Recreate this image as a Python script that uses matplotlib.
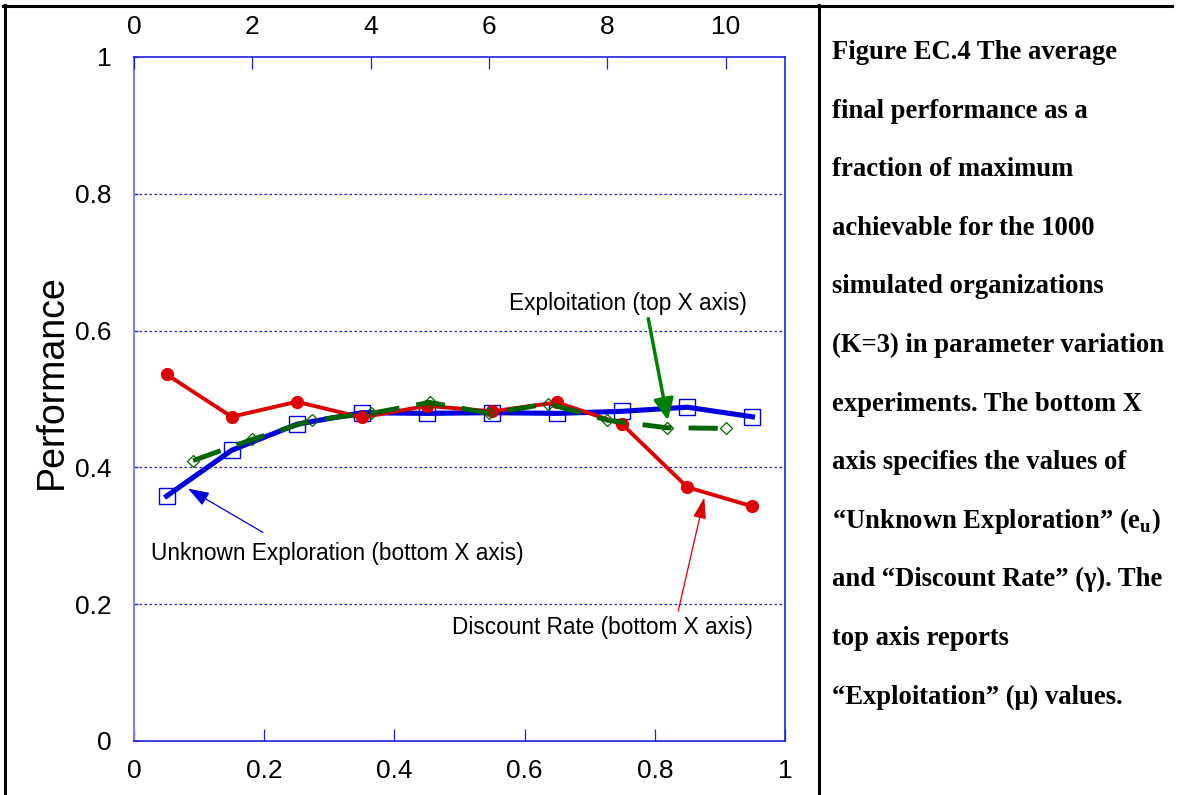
import matplotlib
matplotlib.use("Agg")
import matplotlib.pyplot as plt
from matplotlib.lines import Line2D

plt.rcParams['font.family'] = ['Liberation Sans', 'DejaVu Sans']
plt.rcParams['mathtext.fontset'] = 'custom'
plt.rcParams['mathtext.rm'] = 'Liberation Serif:bold'
plt.rcParams['mathtext.bf'] = 'Liberation Serif:bold'

# ---- data ----
bottom_x = [0.05, 0.15, 0.25, 0.35, 0.45, 0.55, 0.65, 0.75, 0.85, 0.95]
unknown_exploration = [0.358, 0.425, 0.463, 0.480, 0.479, 0.480, 0.479, 0.482, 0.488, 0.474]
discount_rate = [0.536, 0.474, 0.496, 0.473, 0.490, 0.482, 0.495, 0.463, 0.371, 0.343]
top_x = [1, 2, 3, 4, 5, 6, 7, 8, 9, 10]
exploitation = [0.410, 0.441, 0.469, 0.479, 0.495, 0.479, 0.493, 0.469, 0.458, 0.457]

bottom_ticks = [0, 0.2, 0.4, 0.6, 0.8, 1]
bottom_labels = ['0', '0.2', '0.4', '0.6', '0.8', '1']
top_ticks = [0, 2, 4, 6, 8, 10]
y_ticks = [0, 0.2, 0.4, 0.6, 0.8, 1]
y_labels = ['0', '0.2', '0.4', '0.6', '0.8', '1']

caption_lines = [
    "Figure EC.4 The average",
    "final performance as a",
    "fraction of maximum",
    "achievable for the 1000",
    "simulated organizations",
    "(K=3) in parameter variation",
    "experiments. The bottom X",
    "axis specifies the values of",
    "\u201cUnknown Exploration\u201d ($\\mathbf{e}_\\mathbf{u}$)",
    "and \u201cDiscount Rate\u201d (\u03b3). The",
    "top axis reports",
    "\u201cExploitation\u201d (\u03bc) values.",
]

TICKFONT = ['Liberation Sans', 'DejaVu Sans']

W, H = 1177, 795
fig = plt.figure(figsize=(W / 100, H / 100), dpi=100)
fig.patch.set_facecolor('white')

L, R, T, B = 134, 785, 57, 741
ax = fig.add_axes([L / W, 1 - B / H, (R - L) / W, (B - T) / H])

blue = '#0000dd'
red = '#dd0000'
green = '#006400'

ax.plot(bottom_x, unknown_exploration, color=blue, lw=3.7, marker='s', ms=11,
        mfc='none', mec=blue, mew=1.0, zorder=3)
ax.plot(bottom_x, discount_rate, color=red, lw=2.8, marker='o', ms=8.5,
        mfc=red, mec=red, zorder=4)

ax.set_xlim(0, 1)
ax.set_ylim(0, 1)
ax.set_xticks(bottom_ticks)
ax.set_xticklabels(bottom_labels, family=TICKFONT)
ax.set_yticks(y_ticks)
ax.set_yticklabels(y_labels, family=TICKFONT)
for yv in [0.2, 0.4, 0.6, 0.8]:
    ax.axhline(yv, color='#2222dd', lw=0.9, ls=(0, (2, 2)), zorder=1)

ax.tick_params(axis='x', direction='in', length=8.5, width=0.9, color='#2020cc',
               labelsize=19, pad=13, top=False)
ax.tick_params(axis='y', direction='in', length=3, width=0.9, color='#2020cc',
               labelsize=19, pad=16)
ax.set_ylabel('Performance', fontsize=27)
ax.yaxis.set_label_coords(-0.098, 0.525)

for s in ['top', 'bottom', 'right']:
    ax.spines[s].set_color('#2020dd')
    ax.spines[s].set_linewidth(1.2)
ax.spines['left'].set_color('#8080ee')
ax.spines['left'].set_linewidth(1.5)

ax2 = ax.twiny()
ax2.plot(top_x, exploitation, color=green, lw=3.5, ls=(0, (6, 3.5)), marker='D',
         ms=6.5, mfc='none', mec=green, mew=0.9, zorder=5)
ax2.set_xlim(0, 11)
ax2.set_xticks(top_ticks)
ax2.set_xticklabels([str(t) for t in top_ticks], family=TICKFONT)
ax2.tick_params(axis='x', direction='in', length=8.5, width=0.9, color='#2020cc',
                labelsize=19, pad=13)
for s in ax2.spines.values():
    s.set_visible(False)

# ---- annotations ----
ax.text(0.759, 0.639, 'Exploitation (top X axis)', ha='center', va='center',
        fontsize=16.3, zorder=6)
ax.annotate('', xy=(0.82, 0.4686), xytext=(0.79, 0.6175),
            arrowprops=dict(arrowstyle='-|>,head_length=1.3,head_width=0.6',
                            color='#008000', lw=2.5, shrinkA=0, shrinkB=0), zorder=6)

ax.text(0.312, 0.274, 'Unknown Exploration (bottom X axis)', ha='center', va='center',
        fontsize=16.3)
ax.annotate('', xy=(0.083, 0.369), xytext=(0.198, 0.305),
            arrowprops=dict(arrowstyle='-|>,head_length=1.3,head_width=0.45',
                            color=blue, lw=0.9, shrinkA=0, shrinkB=0), zorder=6)

ax.text(0.719, 0.166, 'Discount Rate (bottom X axis)', ha='center', va='center',
        fontsize=16.3)
ax.annotate('', xy=(0.876, 0.356), xytext=(0.836, 0.19),
            arrowprops=dict(arrowstyle='-|>,head_length=1.3,head_width=0.4',
                            color=red, lw=0.9, shrinkA=0, shrinkB=0), zorder=6)

# ---- frame lines ----
def fl(x0, y0, x1, y1):
    fig.add_artist(Line2D([x0 / W, x1 / W], [1 - y0 / H, 1 - y1 / H],
                          color='black', lw=2.2, transform=fig.transFigure))

fl(3, 5.5, 1172, 5.5)
fl(4.5, 5, 4.5, 795)
fl(818.5, 5, 818.5, 795)

# ---- caption ----
y0 = 52.5
for i, line in enumerate(caption_lines):
    fig.text(832 / W, 1 - (y0 + i * 58.6) / H, line, fontsize=19.2, fontweight='bold',
             family=['Liberation Serif', 'DejaVu Serif'], ha='left', va='center')

fig.savefig('out.png', dpi=100)
